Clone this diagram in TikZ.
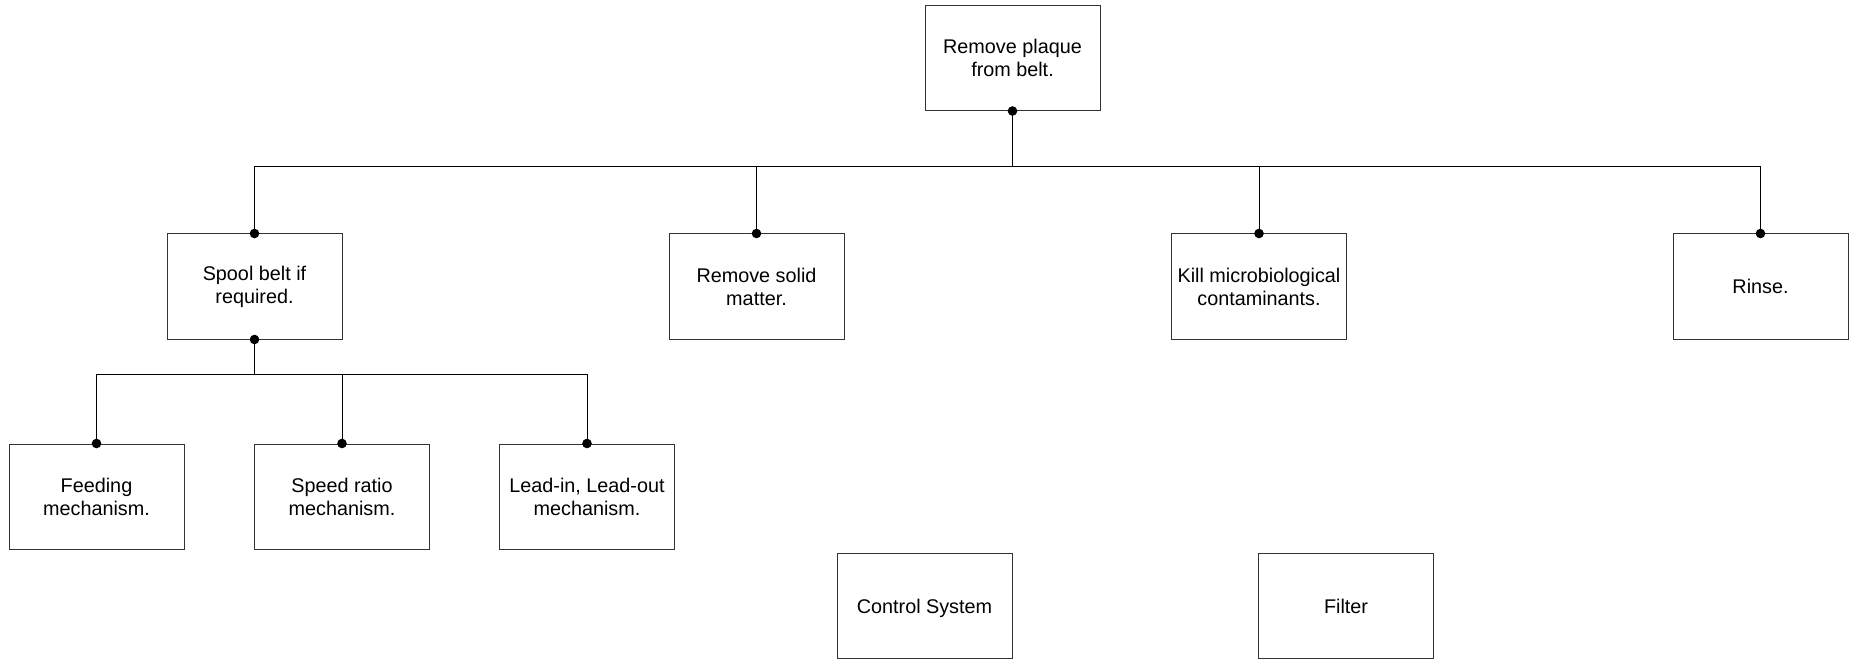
\documentclass[tikz,border=0pt]{standalone}
\usepackage{fontspec}
\setmainfont{Liberation Sans}
\begin{document}
\begin{tikzpicture}[x=1pt,y=-1pt,
  box/.style={draw=black!80,line width=1pt,minimum width=175pt,minimum height=105pt,inner sep=0pt,align=center,font=\fontsize{19.8}{23}\selectfont},
  single/.style={text depth=0pt},
  conn/.style={line width=1pt,black},
  dotr/.style={fill=black}]
\useasboundingbox (0,0) rectangle (1849,660);
\node[box] (top) at (1012.5,58) {Remove plaque\\from belt.};
\node[box] (spool) at (254.5,286.5) {Spool belt if\\required.};
\node[box] (solid) at (756.5,286.5) {Remove solid\\matter.};
\node[box] (kill) at (1259,286.5) {Kill microbiological\\contaminants.};
\node[box,single] (rinse) at (1760.5,286.5) {Rinse.};
\node[box] (feed) at (96.5,496.5) {Feeding\\mechanism.};
\node[box] (speed) at (342,496.5) {Speed ratio\\mechanism.};
\node[box] (lead) at (587,496.5) {Lead-in, Lead-out\\mechanism.};
\node[box,single] (ctrl) at (924.5,606) {Control System};
\node[box,single] (filter) at (1346,606) {Filter};
\coordinate (bus) at (1012.5,167);
\coordinate (bus2) at (254.5,374);
\draw[conn] (top.south) -- (bus);
\draw[conn] (bus) -| (spool.north);
\draw[conn] (bus) -| (solid.north);
\draw[conn] (bus) -| (kill.north);
\draw[conn] (bus) -| (rinse.north);
\draw[conn] (spool.south) -- (bus2);
\draw[conn] (bus2) -| (feed.north);
\draw[conn] (bus2) -| (speed.north);
\draw[conn] (bus2) -| (lead.north);
\foreach \n in {top.south,spool.north,solid.north,kill.north,rinse.north,spool.south,feed.north,speed.north,lead.north}
  \fill[dotr] (\n) circle (4.8pt);
\end{tikzpicture}
\end{document}
